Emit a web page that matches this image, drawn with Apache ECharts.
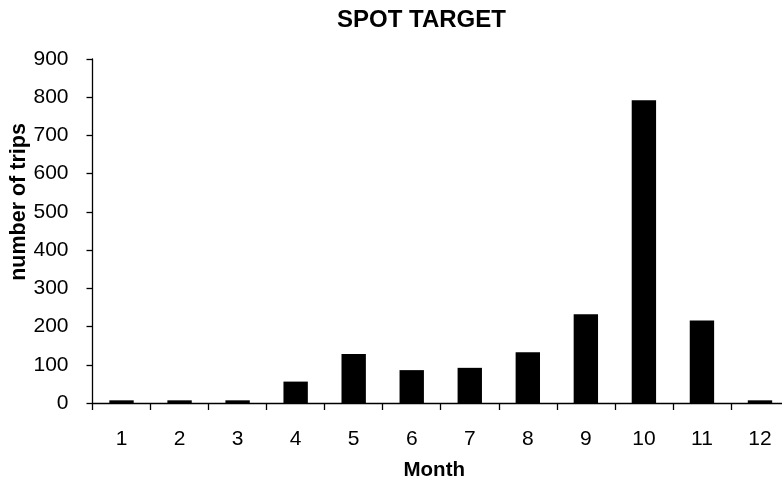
<!DOCTYPE html>
<html>
<head>
<meta charset="utf-8">
<script src="https://cdn.jsdelivr.net/npm/echarts@6/dist/echarts.min.js"></script>
<style>
html,body{margin:0;padding:0;background:#fff;}
#chart{width:782px;height:485px;}
</style>
</head>
<body>
<div id="chart"></div>
<script>
var months = ['1','2','3','4','5','6','7','8','9','10','11','12'];
var trips = [7, 7, 7, 56, 128, 86, 92, 133, 232, 792, 216, 7];
var yTicks = {min: 0, max: 900, interval: 100};

var FONT = '"Liberation Sans", Arial, Helvetica, sans-serif';
var chart = echarts.init(document.getElementById('chart'), null, {renderer: 'canvas'});
chart.setOption({
  animation: false,
  backgroundColor: '#ffffff',
  title: {
    text: 'SPOT TARGET',
    left: 337,
    top: 8,
    padding: 0,
    textStyle: {fontFamily: FONT, fontSize: 24, fontWeight: 'bold', color: '#000'}
  },
  grid: {left: 92.5, right: -7, top: 59, bottom: 82, containLabel: false, outerBoundsMode: 'none'},
  xAxis: {
    type: 'category',
    data: months,
    boundaryGap: true,
    name: 'Month',
    nameLocation: 'middle',
    nameGap: 57,
    nameMoveOverlap: false,
    nameTextStyle: {fontFamily: FONT, fontSize: 20.5, fontWeight: 'bold', color: '#000', padding: [0, 13, 0, 0]},
    axisLine: {show: true, lineStyle: {color: '#000', width: 1.3}},
    axisTick: {show: true, inside: false, length: 7, alignWithLabel: false, lineStyle: {color: '#000', width: 1.3}},
    axisLabel: {fontFamily: FONT, fontSize: 21, color: '#000', margin: 26},
    splitLine: {show: false}
  },
  yAxis: {
    type: 'value',
    min: yTicks.min,
    max: yTicks.max,
    interval: yTicks.interval,
    name: 'number of trips',
    nameLocation: 'middle',
    nameGap: 62,
    nameMoveOverlap: false,
    nameRotate: 90,
    nameTextStyle: {fontFamily: FONT, fontSize: 21.5, fontWeight: 'bold', color: '#000', padding: [0, 0, 0, 58]},
    axisLine: {show: true, lineStyle: {color: '#000', width: 1.3}},
    axisTick: {show: true, inside: false, length: 6, lineStyle: {color: '#000', width: 1.3}},
    axisLabel: {fontFamily: FONT, fontSize: 21, color: '#000', margin: 24},
    splitLine: {show: false}
  },
  series: [{
    type: 'bar',
    data: trips,
    barWidth: '42%',
    itemStyle: {color: '#000'}
  }]
});
</script>
</body>
</html>
